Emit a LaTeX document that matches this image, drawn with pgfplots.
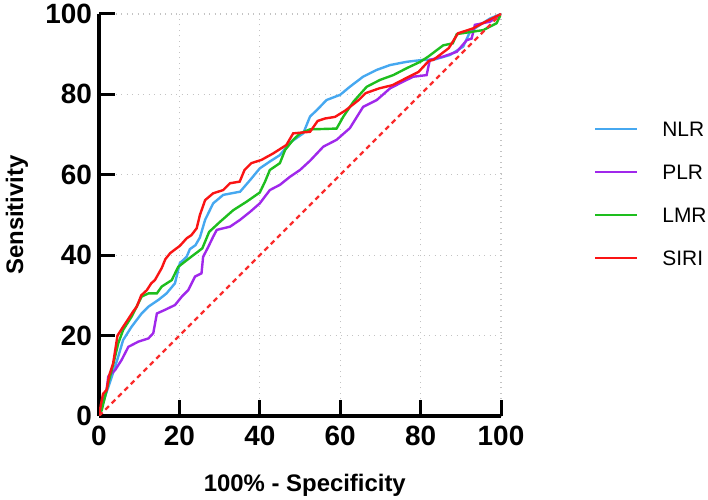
\documentclass[border=0pt]{standalone}
\usepackage{pgfplots}
\pgfplotsset{compat=1.18}
\usepackage{fontspec}
\setmainfont{Liberation Sans}

\definecolor{nlrblue}{RGB}{70,168,240}
\definecolor{plrpurple}{RGB}{160,40,235}
\definecolor{lmrgreen}{RGB}{30,190,30}
\definecolor{sirired}{RGB}{250,20,20}
\definecolor{gridgray}{RGB}{195,195,195}

\begin{document}
\begin{tikzpicture}
  \path[use as bounding box] (0,0) rectangle (708bp,500bp);
  \begin{axis}[
    at={(99bp,84bp)}, anchor=south west,
    scale only axis,
    width=402bp, height=402bp,
    xmin=0, xmax=100, ymin=0, ymax=100,
    xtick={0,20,40,60,80,100},
    ytick={0,20,40,60,80,100},
    axis x line*=bottom, axis y line*=left,
    axis line style={line width=3bp, black, -},
    tick align=inside,
    major tick length=16bp,
    major tick style={line width=3bp, black},
    grid=major,
    major grid style={gridgray, line width=1.3bp, dash pattern=on 1.3bp off 4.2bp},
    /pgf/number format/assume math mode=true,
    tick label style={font=\fontsize{28}{28}\selectfont\bfseries},
    yticklabel style={anchor=east, inner sep=0pt, xshift=-7bp},
    xticklabel style={anchor=north, inner sep=0pt, yshift=-10bp},
    xlabel={100\% - Specificity},
    ylabel={Sensitivity},
    label style={font=\fontsize{24}{24}\selectfont\bfseries},
    xlabel style={at={(axis description cs:0.512,-0.187)}, anchor=base},
    ylabel style={at={(axis description cs:-0.189,0.5)}, anchor=base},
    legend style={
      at={(axis description cs:1.2313,0.5535)}, anchor=west,
      draw=none, fill=none, inner sep=0pt, outer sep=0pt,
      font=\fontsize{21}{21}\selectfont,
      nodes={inner sep=0pt, text height=16bp, text depth=0bp},
      row sep=27bp,
      /tikz/every odd column/.append style={column sep=24bp},
    },
    legend cell align=left,
    legend image code/.code={\draw[#1] (0bp,0bp) -- (42bp,0bp);},
  ]
  % NLR
  \addplot[nlrblue, line width=2.4bp] coordinates {
    (0,0)(1.5,4.8)(3.2,9.8)(4.8,14.8)(6,18.9)(8.1,22.2)(10.6,25.5)(12.3,27.2)
    (14.8,28.9)(16.8,30.5)(18.9,33)(20.1,38)(21.8,39.6)(22.6,41.5)(24,42.5)
    (25.1,44.4)(26.4,48.8)(28.4,52.9)(30.9,55)(35.1,55.8)(37.6,58.7)(40,61.6)
    (42.5,63.3)(45,64.9)(47.5,68)(50.8,70.3)(52.5,74.5)(54.2,76.1)(56.6,78.6)
    (60,79.9)(62.4,81.9)(65.7,84.4)(69.1,86.1)(72.4,87.3)(76.5,88.1)(80.7,88.6)
    (83.2,88.6)(87.3,89.8)(90.6,91.9)(92.3,95.6)(94.8,97.3)(97.3,98.9)(100,100)
  };
  \addlegendentry{NLR}
  % PLR
  \addplot[plrpurple, line width=2.4bp] coordinates {
    (0,0)(1.9,6.5)(2.3,9.8)(4,11.4)(5.6,13.9)(7.3,17.2)(9.8,18.5)(12.3,19.3)
    (13.5,20.6)(14.4,25.5)(16.4,26.4)(18.9,27.6)(20.6,29.7)(22.2,31.3)(23.9,34.7)
    (25.5,35.5)(25.9,39.6)(27.2,42.1)(28.4,44.6)(29.3,46.3)(32.6,47.1)(35.1,48.8)
    (37.6,50.8)(40,52.9)(42.5,56.2)(45,57.5)(47.5,59.5)(50,61.2)(52.5,63.5)
    (55.8,67)(59.1,68.7)(62.4,71.6)(65.7,76.9)(69.1,78.6)(72.4,81.5)(75.7,83.2)
    (78.2,84.4)(81.5,84.8)(82.3,88.6)(85.6,89.4)(89,90.6)(91.5,93.5)(92.7,93.9)
    (93.5,97.3)(97.3,98.1)(100,100)
  };
  \addlegendentry{PLR}
  % LMR
  \addplot[lmrgreen, line width=2.4bp] coordinates {
    (0,0)(0.7,1.5)(2.3,8.1)(3.6,13.1)(4.8,18.1)(6,21.4)(8.1,24.7)(10.6,29.7)
    (12.3,30.5)(14.4,30.5)(15.6,32.2)(18.1,33.8)(19.7,37.1)(22.4,39.2)(25.7,41.7)
    (27.4,45.8)(30.1,48.3)(33.4,51.2)(36.7,53.3)(40,55.6)(41.3,58.3)(42.5,61.2)
    (45,62.9)(46.3,66.2)(48.3,68.7)(50,70.3)(52.5,71.3)(59.1,71.5)(60.8,74.5)
    (63.3,78.2)(66.6,81.9)(69.9,83.6)(73.2,84.8)(76.5,86.5)(79.9,88.1)(81.9,89.4)
    (85.6,92.2)(88,92.7)(89,95)(95.6,96)(98.9,97.7)(100,100)
  };
  \addlegendentry{LMR}
  % SIRI
  \addplot[sirired, line width=2.4bp] coordinates {
    (0,0)(0.5,3)(1,5.5)(1.9,6.5)(2.5,10)(3.5,13)(4.6,20)(6,22.2)(7.2,24)
    (8.5,26)(9.4,27.2)(10.5,30)(11.9,31.3)(13,33)(13.9,33.8)(15.6,36.8)(16.5,39)
    (17.7,40.5)(19,41.5)(20.1,42.3)(21.8,44.2)(23,45)(24.3,46.7)(25.1,50)
    (26.4,53.7)(28.4,55.4)(30.9,56.2)(32.6,57.9)(35,58.3)(36.2,61.2)(37.9,62.9)
    (40.4,63.7)(43.3,65.3)(46.6,67.4)(48.3,70.3)(52.5,70.7)(54.4,73.4)(56.2,74)
    (58.7,74.4)(61.3,76)(64.6,78.6)(66.3,80.3)(69.7,81.5)(73,82.3)(76.3,84)
    (79.5,85.6)(82,88.3)(83.2,88.6)(87,91.5)(89.3,95.2)(93,96.4)(96,98)(100,100)
  };
  \addlegendentry{SIRI}
  % reference line
  \addplot[sirired!90, line width=2.2bp, dash pattern=on 5bp off 4bp, forget plot]
    coordinates {(0,0)(100,100)};
  \end{axis}
\end{tikzpicture}
\end{document}
